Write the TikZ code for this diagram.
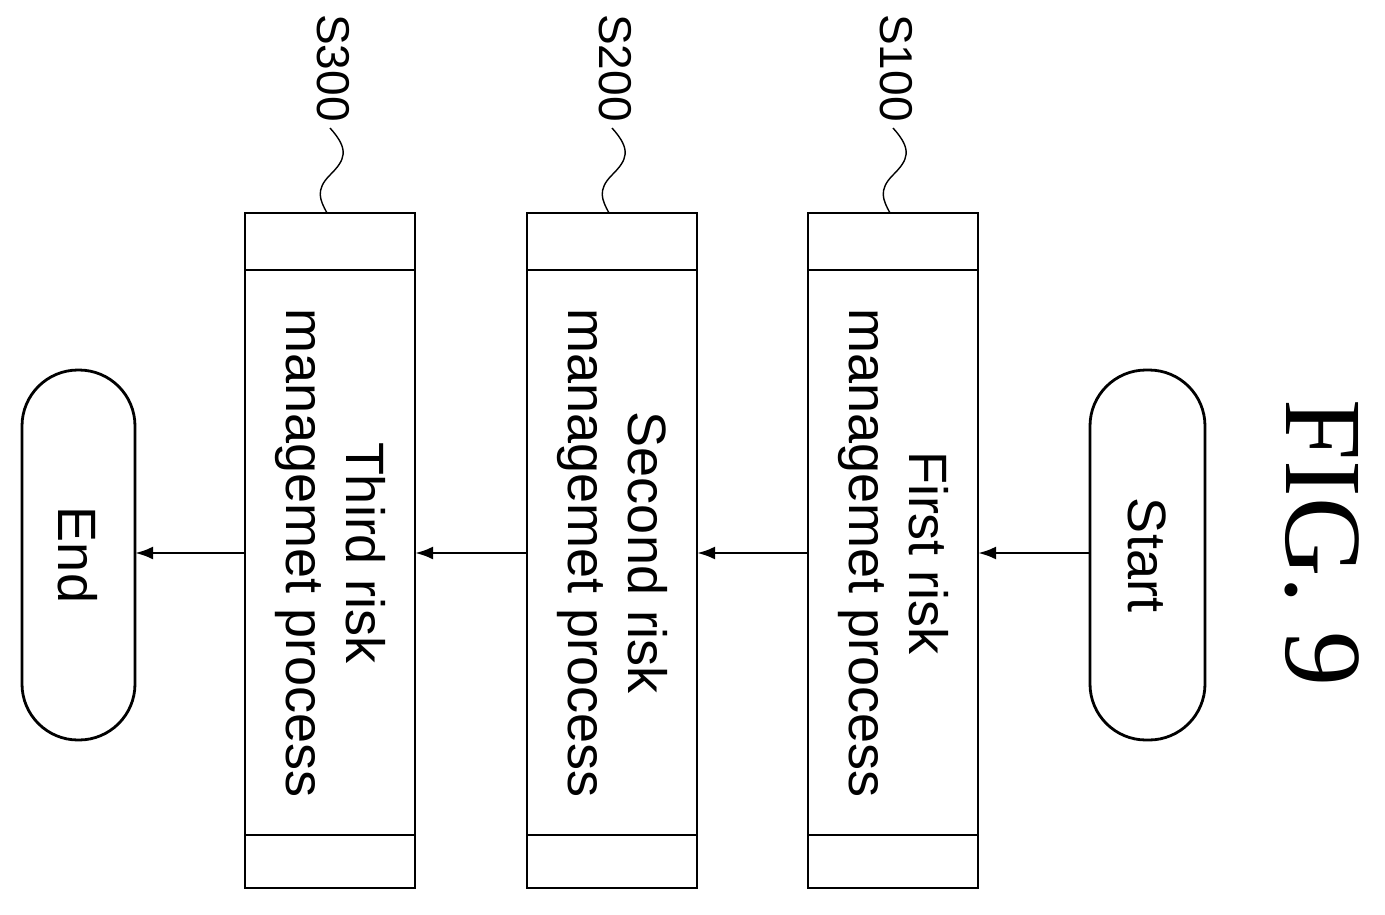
\documentclass[tikz,border=0pt]{standalone}
\usepackage{fontspec}
\setmainfont{Liberation Sans}
\newfontfamily\figfont{Liberation Serif}
\usetikzlibrary{arrows.meta}
\begin{document}
\begin{tikzpicture}[x=1pt,y=-1pt,
  lw/.style={line width=2.8pt},
  txt/.style={rotate=-90,font=\fontsize{54}{60}\selectfont,align=center,inner sep=0},
  lbl/.style={rotate=-90,font=\fontsize{46}{50}\selectfont,inner sep=0},
  arr/.style={lw,-{Latex[length=18pt,width=13pt]}}]
\useasboundingbox (0,0) rectangle (1385,914);
\node[rotate=-90,font=\figfont\fontsize{110}{112}\selectfont,inner sep=0] (fig) at (1322,543) {FIG. 9};
% terminals
\draw[lw,rounded corners=56pt] (1090,370) rectangle (1205,740);
\node[txt] (start) at (1147,555) {Start};
\draw[lw,rounded corners=56pt] (22,370) rectangle (135,740);
\node[txt] (end) at (78,555) {End};
\coordinate (sR) at (1090,553);
\coordinate (eR) at (135,553);
% boxes
\foreach \n/\l/\t/\s in {b1/808/{First risk\\managemet process}/S100, b2/527/{Second risk\\managemet process}/S200, b3/245/{Third risk\\managemet process}/S300}{
  \draw[lw] (\l,213) rectangle (\l+170,888);
  \draw[lw] (\l,270) -- (\l+170,270);
  \draw[lw] (\l,835) -- (\l+170,835);
  \node[txt] (\n) at (\l+85,553) {\t};
  \coordinate (\n L) at (\l,553);
  \coordinate (\n R) at (\l+170,553);
  \node[lbl] (\n lab) at (\l+88,68) {\s};
  \draw[line width=1.4pt] (\l+85,128) .. controls (\l+105,150) and (\l+100,160) .. (\l+85,175) .. controls (\l+70,190) and (\l+75,200) .. (\l+82,213);
}
\draw[arr] (sR) -- (b1R);
\draw[arr] (b1L) -- (b2R);
\draw[arr] (b2L) -- (b3R);
\draw[arr] (b3L) -- (eR);
\end{tikzpicture}
\end{document}
